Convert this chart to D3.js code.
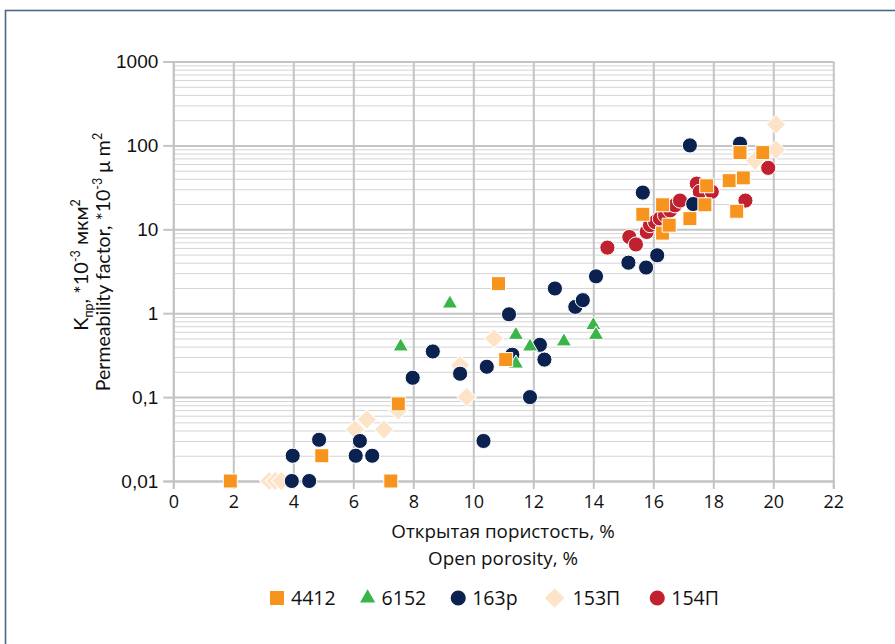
<!DOCTYPE html>
<html>
<head>
<meta charset="utf-8">
<script src="https://cdn.jsdelivr.net/npm/d3@7"></script>
<style>
  body { margin: 0; background: #fff; }
  svg { display: block; }
</style>
</head>
<body>
<svg id="chart" width="895" height="644"></svg>
<script>
// ---------- data ----------
const por4412  = [1.9, 4.95, 7.25, 7.5, 10.84, 11.08, 15.65, 16.31, 16.31, 16.53, 17.22, 17.72, 17.78, 18.53, 18.78, 18.89, 19.0, 19.65]
const perm4412 = [0.01, 0.02, 0.01, 0.083, 2.25, 0.28, 15.1, 19.6, 9.0, 11.2, 13.4, 19.6, 33, 38, 16.4, 82, 41, 82]

const por6152  = [7.58, 9.22, 11.42, 11.42, 11.89, 13.02, 14.0, 14.09]
const perm6152 = [0.40, 1.30, 0.55, 0.25, 0.40, 0.46, 0.72, 0.55]

const por163  = [3.95, 3.98, 4.53, 4.86, 6.08, 6.22, 6.63, 7.98, 8.65, 9.56, 10.34, 10.45, 11.19, 11.3, 11.89, 12.22, 12.37, 12.72, 13.4, 13.65, 14.09, 15.17, 15.65, 15.76, 16.13, 17.22, 17.33, 18.89]
const perm163 = [0.01, 0.02, 0.01, 0.031, 0.02, 0.03, 0.02, 0.17, 0.35, 0.19, 0.03, 0.23, 0.97, 0.32, 0.10, 0.42, 0.28, 1.97, 1.19, 1.43, 2.75, 4.0, 27.4, 3.5, 4.9, 100, 20, 105]

const por153  = [3.2, 3.4, 3.6, 6.06, 6.45, 7.02, 7.5, 9.56, 9.78, 10.69, 19.39, 20.09, 20.09]
const perm153 = [0.01, 0.01, 0.01, 0.041, 0.054, 0.041, 0.069, 0.24, 0.10, 0.50, 66, 89, 178]

const por154  = [14.47, 15.2, 15.42, 15.78, 15.89, 16.06, 16.22, 16.39, 16.56, 16.72, 16.89, 17.45, 17.55, 17.95, 19.07, 19.83]
const perm154 = [6.05, 8.1, 6.6, 9.3, 11.2, 12.2, 13.4, 14.7, 16.8, 19.3, 22, 35, 28, 28, 22, 54]

const seriesNames  = ['4412', '6152', '163р', '153П', '154П']
const seriesColors = ['#f7941d', '#39b54a', '#0b2250', '#fde3c8', '#c1202f']

const xTicks = [0, 2, 4, 6, 8, 10, 12, 14, 16, 18, 20, 22]
const yTicks = [0.01, 0.1, 1, 10, 100, 1000]
const yTickLabels = ['0,01', '0,1', '1', '10', '100', '1000']

// ---------- layout ----------
const svg = d3.select('#chart')
const plotL = 173.3, plotR = 833.3, plotT = 61.5, plotB = 481
const GRID = '#c4c4c4'

const x = d3.scaleLinear().domain([0, 22]).range([plotL, plotR])
const y = d3.scaleLog().domain([0.01, 1000]).range([plotB, plotT])

// outer frame (only top/left edges are inside the picture)
svg.append('rect')
  .attr('x', 5.5).attr('y', 10.5)
  .attr('width', 1000).attr('height', 1000)
  .attr('fill', 'none')
  .attr('stroke', '#4e6787')
  .attr('stroke-width', 1.6)

/* minor horizontal grid */
const minor = y.ticks().filter(v => !yTicks.some(t => Math.abs(t - v) / t < 1e-6))
svg.append('g')
  .attr('transform', `translate(${plotL},0)`)
  .call(d3.axisLeft(y).tickValues(minor).tickSize(-(plotR - plotL)).tickFormat(''))
  .call(g => g.select('.domain').remove())
  .selectAll('.tick line')
  .attr('stroke', '#d4d4d4')
  .attr('stroke-width', 1)

/* major horizontal grid */
svg.append('g')
  .attr('transform', `translate(${plotL},0)`)
  .call(d3.axisLeft(y).tickValues(yTicks).tickSize(-(plotR - plotL)).tickFormat(''))
  .call(g => g.select('.domain').remove())
  .selectAll('.tick line')
  .attr('stroke', GRID)
  .attr('stroke-width', 2)

/* vertical grid */
svg.append('g')
  .attr('transform', `translate(0,${plotB})`)
  .call(d3.axisBottom(x).tickValues(xTicks).tickSize(-(plotB - plotT)).tickFormat(''))
  .call(g => g.select('.domain').remove())
  .selectAll('.tick line')
  .attr('stroke', GRID)
  .attr('stroke-width', 2)

/* y axis with labels */
const yAxis = svg.append('g')
  .attr('transform', `translate(${plotL},0)`)
  .call(d3.axisLeft(y).tickValues(yTicks).tickSize(10).tickPadding(5)
    .tickFormat((d, i) => yTickLabels[i]))
yAxis.select('.domain').attr('stroke', GRID).attr('stroke-width', 2)
yAxis.selectAll('.tick line').attr('stroke', GRID).attr('stroke-width', 2)
yAxis.selectAll('text')
  .attr('fill', '#111')
  .style('font-family', '"Liberation Sans", Arial, sans-serif')
  .style('font-size', '19px')

/* x axis with labels */
const xAxis = svg.append('g')
  .attr('transform', `translate(0,${plotB})`)
  .call(d3.axisBottom(x).tickValues(xTicks).tickSize(8).tickPadding(6))
xAxis.select('.domain').attr('stroke', GRID).attr('stroke-width', 2)
xAxis.selectAll('.tick line').attr('stroke', GRID).attr('stroke-width', 2)
xAxis.selectAll('text')
  .attr('fill', '#111')
  .style('font-family', '"Open Sans", sans-serif')
  .style('font-size', '18px')

// ---------- axis titles ----------
const titleFont = '"Open Sans", sans-serif'
svg.append('text')
  .attr('x', 503).attr('y', 538)
  .attr('text-anchor', 'middle')
  .style('font-family', titleFont).style('font-size', '18.8px').attr('fill', '#111')
  .text('Открытая пористость, %')
svg.append('text')
  .attr('x', 503).attr('y', 565)
  .attr('text-anchor', 'middle')
  .style('font-family', titleFont).style('font-size', '18.8px').attr('fill', '#111')
  .text('Open porosity, %')

function richLine (parent, parts) {
  parts.forEach(p => {
    const t = parent.append('tspan').text(p.t)
    if (p.sub) t.attr('dy', 5).style('font-size', '12.5px')
    if (p.sup) t.attr('dy', -8).style('font-size', '12.5px')
    if (p.back) t.attr('dy', p.back)
  })
}

const yLab1 = svg.append('text')
  .attr('transform', 'translate(88,265) rotate(-90)')
  .attr('text-anchor', 'middle')
  .style('font-family', 'Lato, sans-serif').style('font-size', '20px').attr('fill', '#111')
richLine(yLab1, [
  { t: 'K' }, { t: 'пр', sub: true }, { t: ', *10', back: -5 }, { t: '-3', sup: true },
  { t: ' мкм', back: 8 }, { t: '2', sup: true }
])

const yLab2 = svg.append('text')
  .attr('transform', 'translate(110,262) rotate(-90)')
  .attr('text-anchor', 'middle')
  .style('font-family', 'Lato, sans-serif').style('font-size', '19.5px').attr('fill', '#111')
richLine(yLab2, [
  { t: 'Permeability factor, *10' }, { t: '-3', sup: true },
  { t: ' μ m', back: 8 }, { t: '2', sup: true }
])

// ---------- markers ----------
const shapes = [
  { type: d3.symbolSquare, size: 196, rot: 0 },
  { type: d3.symbolTriangle, size: 100, rot: 0 },
  { type: d3.symbolCircle, size: 180, rot: 0 },
  { type: d3.symbolSquare, size: 190, rot: 45 },
  { type: d3.symbolCircle, size: 180, rot: 0 }
]
const seriesData = [
  d3.zip(por4412, perm4412),
  d3.zip(por6152, perm6152),
  d3.zip(por163, perm163),
  d3.zip(por153, perm153),
  d3.zip(por154, perm154)
]

// drawn in reverse so 4412 ends up on top
for (let i = seriesData.length - 1; i >= 0; i--) {
  const sh = shapes[i]
  svg.append('g').selectAll('path')
    .data(seriesData[i])
    .join('path')
    .attr('d', d3.symbol().type(sh.type).size(sh.size))
    .attr('transform', d => `translate(${x(d[0])},${y(d[1])}) rotate(${sh.rot})`)
    .attr('fill', seriesColors[i])
    .attr('stroke', '#fff')
    .attr('stroke-width', 1)
}

// ---------- legend ----------
const legend = svg.append('g').attr('transform', 'translate(0,598)')
let cx = 277
seriesNames.forEach((name, i) => {
  const sh = shapes[i]
  const g = legend.append('g')
  g.append('path')
    .attr('d', d3.symbol().type(sh.type).size(sh.size))
    .attr('transform', `translate(${cx},0) rotate(${sh.rot})`)
    .attr('fill', seriesColors[i])
  const txt = g.append('text')
    .attr('x', cx + (i === 3 ? 18 : 14))
    .attr('y', 6.8)
    .style('font-family', titleFont).style('font-size', '19.5px').attr('fill', '#111')
    .text(name)
  const w = txt.node().getComputedTextLength()
  cx = cx + (i === 3 ? 18 : 14) + w + (i >= 2 ? 37 : 32)
})
</script>
</body>
</html>
